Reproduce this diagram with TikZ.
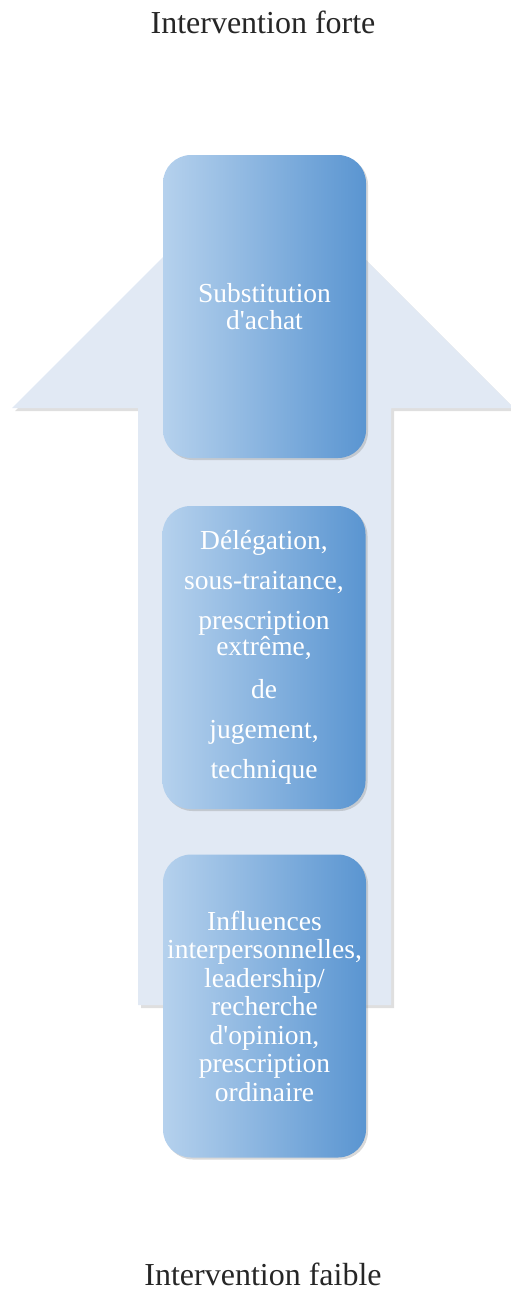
\documentclass[tikz,border=0pt]{standalone}
\usepackage{fontspec}
\setmainfont{Liberation Serif}
\usetikzlibrary{shadows}

\definecolor{stemblue}{HTML}{E1E9F4}
\definecolor{boxlight}{HTML}{B5D1ED}
\definecolor{boxdark}{HTML}{5A95D1}

\begin{document}
\begin{tikzpicture}[x=1pt, y=-1pt,
	levelbox/.style={rounded corners=28pt, minimum width=203pt, minimum height=303pt,
		inner sep=0pt, left color=boxlight, right color=boxdark, text=white, align=center,
		drop shadow={opacity=0.3, shadow xshift=2pt, shadow yshift=-2pt}},
	endlabel/.style={font=\fontsize{32}{36}\selectfont, text=black!85}]
	\useasboundingbox (0,0) rectangle (511,1291);

	% big arrow behind the boxes
	\fill[stemblue, drop shadow={opacity=0.25, shadow xshift=3pt, shadow yshift=-3pt}]
		(138,1005) -- (138,408) -- (12,408) -- (263,157) -- (514,408) -- (391,408) -- (391,1005) -- cycle;

	\node[endlabel]  (forte)  at (263,22)   {Intervention forte};
	\node[endlabel]  (faible) at (263,1274) {Intervention faible};

	\node[levelbox, font=\fontsize{27.5}{27}\selectfont]   (subst) at (264.5,306.5) {Substitution\\d\textquotesingle achat};
	\node[levelbox, font=\fontsize{27.5}{40}\selectfont]   (deleg) at (264,657.5)   {Délégation,\\sous-traitance,\\prescription\\[-14pt]extrême,\\[3pt]de\\jugement,\\technique};
	\node[levelbox, font=\fontsize{27.5}{28.5}\selectfont] (influ) at (264.5,1006)  {Influences\\interpersonnelles,\\leadership/\\recherche\\d\textquotesingle opinion,\\prescription\\ordinaire};
\end{tikzpicture}
\end{document}
